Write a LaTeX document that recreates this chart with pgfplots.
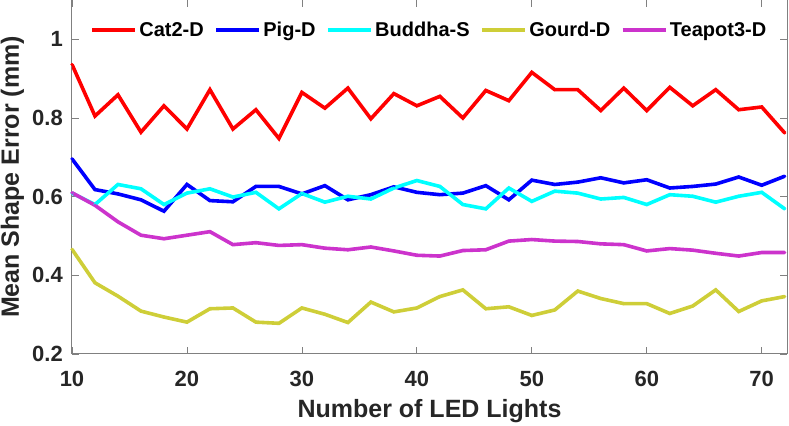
\documentclass[border=0pt]{standalone}
\usepackage{fontspec}
\setmainfont{Liberation Sans}
\usepackage{pgfplots}
\pgfplotsset{compat=1.18}
\definecolor{cgourd}{RGB}{206,206,56}
\definecolor{cteapot}{RGB}{204,51,204}
\definecolor{ccyan}{RGB}{0,255,255}
\definecolor{axgray}{RGB}{128,128,128}
\definecolor{txt}{RGB}{38,38,38}
\begin{document}
\begin{tikzpicture}
\begin{axis}[
  scale only axis,
  width=715pt, height=354pt,
  xmin=10, xmax=72.2, ymin=0.2, ymax=1.1,
  xtick={10,20,...,70}, ytick={0.2,0.4,...,1.0},
  yticklabels={0.2,0.4,0.6,0.8,1},
  /pgf/number format/assume math mode=true,
  tick align=inside,
  major tick length=7pt,
  axis line style={axgray, line width=1pt},
  every tick/.style={axgray, line width=0.8pt},
  ticklabel style={font=\fontsize{22}{24}\selectfont\bfseries, text=txt, inner sep=0pt},
  xticklabel style={anchor=base, yshift=-33pt},
  yticklabel style={anchor=east, xshift=-9pt},
  xlabel={Number of LED Lights},
  ylabel={Mean Shape Error (mm)},
  label style={font=\fontsize{25}{28}\selectfont\bfseries, text=txt},
  xlabel style={at={(axis description cs:0.5,-0.1808)}, anchor=base},
  ylabel style={at={(axis description cs:-0.0832,0.5)}, anchor=center},
  legend style={at={(0.5,0.915)}, anchor=center, draw=none, fill=none,
    font=\fontsize{20}{22}\selectfont\bfseries, inner sep=0pt,
    nodes={inner sep=2.5pt},
    /tikz/every even column/.append style={column sep=8pt}},
  legend cell align=left,
  legend columns=-1,
  legend image code/.code={\draw[#1] (0pt,0pt) -- (43pt,0pt); \draw[#1,mark repeat=1] plot coordinates {(21.5pt,0pt)};},
  every axis plot/.append style={line width=3.6pt, mark=*, mark size=1.3pt, mark options={line width=0.5pt}},
]
\addplot[red] coordinates {
(10,0.936)(12,0.805)(14,0.859)(16,0.764)(18,0.831)(20,0.772)(22,0.872)(24,0.772)
(26,0.821)(28,0.748)(30,0.865)(32,0.825)(34,0.876)(36,0.798)(38,0.862)(40,0.831)
(42,0.855)(44,0.800)(46,0.870)(48,0.844)(50,0.916)(52,0.872)(54,0.872)(56,0.819)
(58,0.876)(60,0.819)(62,0.878)(64,0.831)(66,0.872)(68,0.821)(70,0.828)(72,0.762)};
\addlegendentry{Cat2-D}
\addplot[blue] coordinates {
(10,0.696)(12,0.618)(14,0.607)(16,0.592)(18,0.563)(20,0.631)(22,0.590)(24,0.587)
(26,0.626)(28,0.626)(30,0.607)(32,0.628)(34,0.592)(36,0.605)(38,0.625)(40,0.611)
(42,0.605)(44,0.609)(46,0.628)(48,0.592)(50,0.642)(52,0.631)(54,0.637)(56,0.648)
(58,0.635)(60,0.643)(62,0.622)(64,0.626)(66,0.632)(68,0.650)(70,0.629)(72,0.652)};
\addlegendentry{Pig-D}
\addplot[ccyan] coordinates {
(10,0.609)(12,0.580)(14,0.631)(16,0.620)(18,0.580)(20,0.609)(22,0.620)(24,0.599)
(26,0.611)(28,0.569)(30,0.608)(32,0.586)(34,0.601)(36,0.594)(38,0.622)(40,0.641)
(42,0.626)(44,0.580)(46,0.569)(48,0.622)(50,0.588)(52,0.614)(54,0.609)(56,0.594)
(58,0.598)(60,0.580)(62,0.605)(64,0.601)(66,0.586)(68,0.601)(70,0.611)(72,0.569)};
\addlegendentry{Buddha-S}
\addplot[cgourd] coordinates {
(10,0.466)(12,0.381)(14,0.347)(16,0.309)(18,0.294)(20,0.281)(22,0.315)(24,0.317)
(26,0.281)(28,0.278)(30,0.317)(32,0.301)(34,0.280)(36,0.332)(38,0.307)(40,0.317)
(42,0.346)(44,0.363)(46,0.315)(48,0.320)(50,0.298)(52,0.312)(54,0.360)(56,0.341)
(58,0.328)(60,0.328)(62,0.303)(64,0.322)(66,0.363)(68,0.308)(70,0.335)(72,0.346)};
\addlegendentry{Gourd-D}
\addplot[cteapot] coordinates {
(10,0.610)(12,0.578)(14,0.536)(16,0.502)(18,0.493)(20,0.502)(22,0.511)(24,0.478)
(26,0.483)(28,0.476)(30,0.478)(32,0.469)(34,0.465)(36,0.472)(38,0.462)(40,0.451)
(42,0.449)(44,0.463)(46,0.465)(48,0.487)(50,0.491)(52,0.487)(54,0.486)(56,0.480)
(58,0.478)(60,0.462)(62,0.468)(64,0.464)(66,0.456)(68,0.449)(70,0.458)(72,0.458)};
\addlegendentry{Teapot3-D}
\end{axis}
\pgfresetboundingbox
\path (current axis.south west) ++(-72pt,-72pt);
\path (current axis.north east) ++(2pt,0pt);
\end{tikzpicture}
\end{document}
